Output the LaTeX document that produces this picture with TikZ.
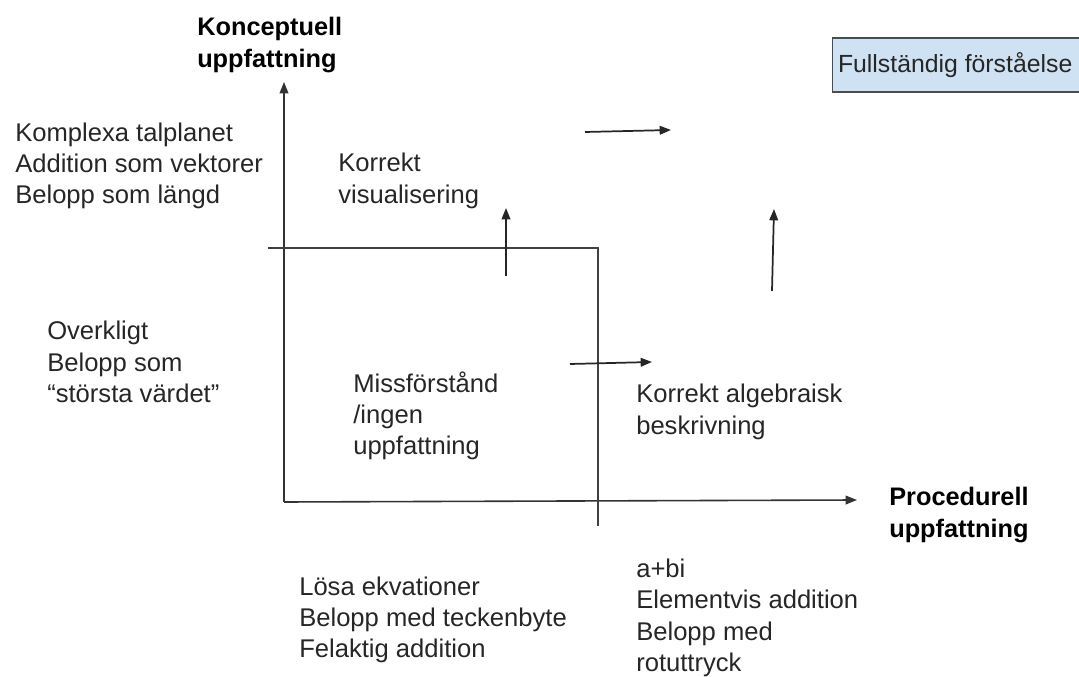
\documentclass[tikz,border=0pt]{standalone}
\usepackage{fontspec}
\setmainfont{Liberation Sans}
\usetikzlibrary{arrows.meta}
\begin{document}
\begin{tikzpicture}[x=0.75pt,y=-0.75pt,
  lbl/.style={anchor=west,align=left,inner sep=0pt,font=\fontsize{19.2}{23.5}\selectfont,text=black!85},
  blbl/.style={lbl,font=\fontsize{19}{23.5}\selectfont\bfseries,text=black},
  ax/.style={line width=1.2pt,draw=black!80,-{Triangle[length=8.5pt,width=6.5pt]}},
  ln/.style={line width=1.2pt,draw=black!75},
  arr/.style={line width=1.3pt,draw=black!85,-{Triangle[length=8.5pt,width=6.5pt]}}]
\useasboundingbox (0,0) rectangle (1079,677);
% axes
\coordinate (O) at (284,502);
\coordinate (Ytop) at (284,82);
\coordinate (Xend) at (857,500);
\draw[ax] (O) -- (Ytop);
\draw[ax] (O) -- (Xend);
% inner quadrant lines
\coordinate (H1) at (268,248);
\coordinate (H2) at (598,248);
\coordinate (V2) at (598,526);
\draw[ln] (H1) -- (H2) -- (V2);
% short arrows
\coordinate (a1s) at (585,132); \coordinate (a1e) at (671,130);
\coordinate (a2s) at (506,276); \coordinate (a2e) at (506,208);
\coordinate (a3s) at (570,364); \coordinate (a3e) at (652,362);
\coordinate (a4s) at (772,291); \coordinate (a4e) at (774,209);
\draw[arr] (a1s) -- (a1e);
\draw[arr] (a2s) -- (a2e);
\draw[arr] (a3s) -- (a3e);
\draw[arr] (a4s) -- (a4e);
% box
\node[draw=black!70,line width=1pt,fill={rgb,255:red,207;green,226;blue,243},
  anchor=west,inner xsep=4pt,inner ysep=0pt,minimum height=40.5pt,
  font=\fontsize{18.6}{23.5}\selectfont,text=black!85] (full) at (832,65) {Fullständig förståelse\hspace*{20pt}};
% labels
\node[blbl] (kon) at (197,45) {Konceptuell\\uppfattning};
\node[blbl] (pro) at (889,515) {Procedurell\\uppfattning};
\node[lbl] (kompl) at (15,166) {Komplexa talplanet\\Addition som vektorer\\Belopp som längd};
\node[lbl] (korv) at (338,181) {Korrekt\\visualisering};
\node[lbl] (overk) at (47,362) {Overkligt\\Belopp som\\“största värdet”};
\node[lbl] (miss) at (353,416) {Missförstånd\\/ingen\\uppfattning};
\node[lbl] (kora) at (636,412) {Korrekt algebraisk\\beskrivning};
\node[lbl] (losa) at (299,620) {Lösa ekvationer\\Belopp med teckenbyte\\Felaktig addition};
\node[lbl] (abi) at (636,618) {a+bi\\Elementvis addition\\Belopp med\\rotuttryck};
\end{tikzpicture}
\end{document}
